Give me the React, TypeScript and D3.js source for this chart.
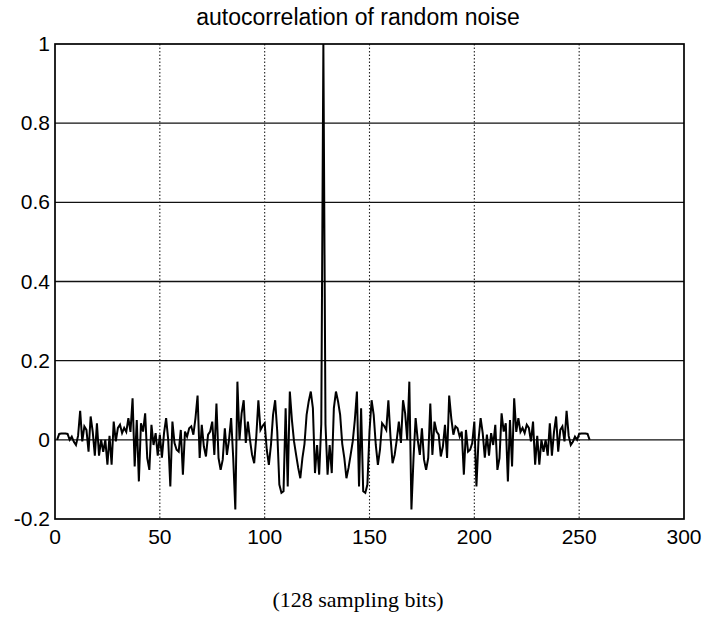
import React from "react";
import * as d3 from "d3";

const title = "autocorrelation of random noise";
const xLabel = "(128 sampling bits)";
const xTicks = [0, 50, 100, 150, 200, 250, 300];
const yTicks = [-0.2, 0, 0.2, 0.4, 0.6, 0.8, 1];
const yTickLabels = ["-0.2", "0", "0.2", "0.4", "0.6", "0.8", "1"];

// autocorrelation values for samples 1..255 (peak at 128)
const corrValues = [
  0.0, 0.015, 0.016, 0.016, 0.016, 0.015, 0.0, 0.008, -0.005, -0.013,
  0.01, 0.073, -0.004, 0.034, 0.025, -0.03, 0.059, 0.02, -0.04, 0.042,
  -0.04, 0.0, -0.03, 0.0, -0.063, 0.01, -0.063, 0.046, -0.004, 0.03,
  0.038, 0.017, 0.03, 0.02, 0.055, 0.02, 0.105, -0.067, 0.05, -0.105,
  0.042, 0.021, 0.067, -0.046, -0.076, 0.038, -0.013, 0.017, -0.04, 0.013,
  -0.045, 0.017, 0.055, 0.0, -0.118, 0.046, -0.008, -0.025, -0.03, 0.025,
  -0.088, 0.021, 0.008, 0.029, 0.034, 0.013, 0.055, 0.112, -0.046, 0.038,
  -0.017, -0.042, 0.013, 0.021, 0.046, -0.038, 0.092, -0.046, -0.076, -0.05,
  0.029, -0.038, 0.0, 0.055, -0.046, -0.176, 0.147, 0.0, 0.067, 0.1,
  -0.008, 0.046, 0.0, -0.038, -0.059, 0.008, 0.1, 0.025, 0.035, 0.042,
  -0.025, -0.063, -0.013, 0.063, 0.1, 0.021, -0.113, -0.134, -0.13, 0.08,
  -0.118, 0.122, 0.05, -0.004, -0.038, -0.071, -0.097, -0.046, -0.01, 0.063,
  0.097, 0.122, 0.08, -0.084, -0.013, -0.088, 0.04,
  1.0,
  0.04, -0.088, -0.013, -0.084, 0.08, 0.122, 0.097, 0.063, -0.01, -0.046,
  -0.097, -0.071, -0.038, -0.004, 0.05, 0.122, -0.118, 0.08, -0.13, -0.134,
  -0.113, 0.021, 0.1, 0.063, -0.013, -0.063, -0.025, 0.042, 0.035, 0.025,
  0.1, 0.008, -0.059, -0.038, 0.0, 0.046, -0.008, 0.1, 0.067, 0.0,
  0.147, -0.176, -0.046, 0.055, 0.0, -0.038, 0.029, -0.05, -0.076, -0.046,
  0.092, -0.038, 0.046, 0.021, 0.013, -0.042, -0.017, 0.038, -0.046, 0.112,
  0.055, 0.013, 0.034, 0.029, 0.008, 0.021, -0.088, 0.025, -0.03, -0.025,
  -0.008, 0.046, -0.118, 0.0, 0.055, 0.017, -0.045, 0.013, -0.04, 0.017,
  -0.013, 0.038, -0.076, -0.046, 0.067, 0.021, 0.042, -0.105, 0.05, -0.067,
  0.105, 0.02, 0.055, 0.02, 0.03, 0.017, 0.038, 0.03, -0.004, 0.046,
  -0.063, 0.01, -0.063, 0.0, -0.03, 0.0, -0.04, 0.042, -0.04, 0.02,
  0.059, -0.03, 0.025, 0.034, -0.004, 0.073, 0.01, -0.013, -0.005, 0.008,
  0.0, 0.015, 0.016, 0.016, 0.016, 0.015, 0.0,
];

export default function App() {
  const W = 705;
  const H = 624;
  const left = 55;
  const right = 684;
  const top = 44;
  const bottom = 519;
  const x = d3.scaleLinear().domain([0, 300]).range([left, right]);
  const y = d3.scaleLinear().domain([-0.2, 1]).range([bottom, top]);
  const pts: [number, number][] = corrValues.map((v, i) => [i + 1, v]);
  const line = d3
    .line<[number, number]>()
    .x((d) => x(d[0]))
    .y((d) => y(d[1]));
  const sans = "'Liberation Sans', Arial, sans-serif";
  return (
    <svg
      width={W}
      height={H}
      style={{ position: "absolute", left: 0, top: 0, background: "#fff" }}
    >
      <rect x={0} y={0} width={W} height={H} fill="#fff" />
      {yTicks.slice(1, -1).map((t) => (
        <line
          key={"h" + t}
          x1={left}
          x2={right}
          y1={y(t)}
          y2={y(t)}
          stroke="#111"
          strokeWidth={1.3}
        />
      ))}
      {xTicks.slice(1, -1).map((t) => (
        <line
          key={"v" + t}
          x1={x(t)}
          x2={x(t)}
          y1={top}
          y2={bottom}
          stroke="#222"
          strokeWidth={1.1}
          strokeDasharray="1.5,2"
        />
      ))}
      <path
        d={line(pts) || ""}
        fill="none"
        stroke="#000"
        strokeWidth={2}
        strokeLinejoin="miter"
      />
      <rect
        x={left}
        y={top}
        width={right - left}
        height={bottom - top}
        fill="none"
        stroke="#000"
        strokeWidth={1.7}
      />
      {xTicks.map((t) => (
        <text
          key={"xt" + t}
          x={x(t)}
          y={bottom + 25}
          textAnchor="middle"
          fontFamily={sans}
          fontSize={21}
          fill="#000"
        >
          {t}
        </text>
      ))}
      {yTicks.map((t, i) => (
        <text
          key={"yt" + t}
          x={left - 5}
          y={y(t) + 7}
          textAnchor="end"
          fontFamily={sans}
          fontSize={21}
          fill="#000"
        >
          {yTickLabels[i]}
        </text>
      ))}
      <text
        x={358}
        y={25}
        textAnchor="middle"
        fontFamily={sans}
        fontSize={23}
        fill="#000"
      >
        {title}
      </text>
      <text
        x={358}
        y={607}
        textAnchor="middle"
        fontFamily="'Liberation Serif', 'Times New Roman', serif"
        fontSize={22}
        fill="#000"
      >
        {xLabel}
      </text>
    </svg>
  );
}
